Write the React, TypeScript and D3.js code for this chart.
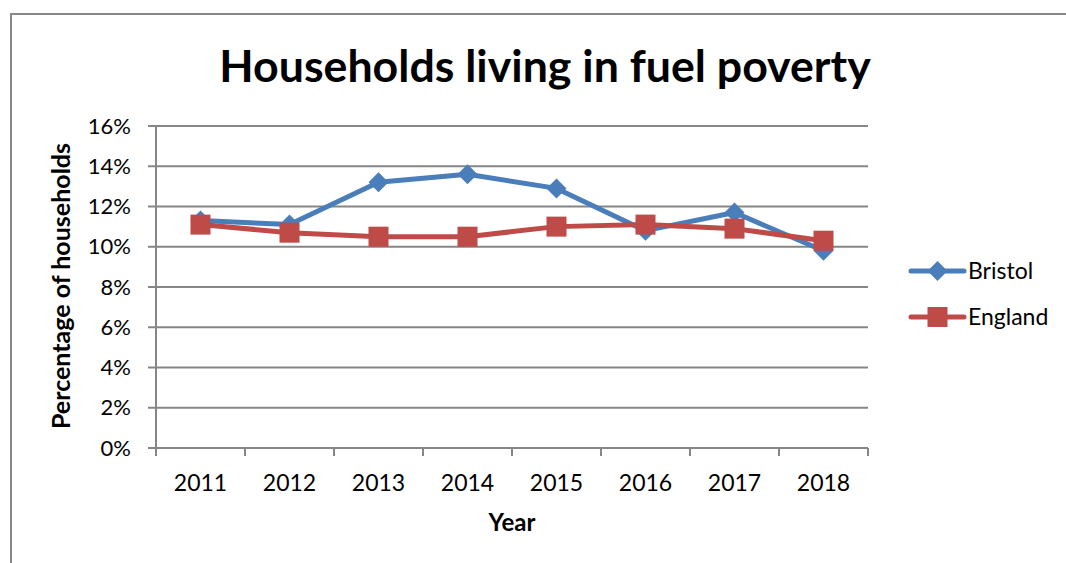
import React from "react";
import * as d3 from "d3";

const years = ["2011", "2012", "2013", "2014", "2015", "2016", "2017", "2018"];
const bristol = [11.3, 11.1, 13.2, 13.6, 12.9, 10.8, 11.7, 9.8];
const england = [11.1, 10.7, 10.5, 10.5, 11.0, 11.1, 10.9, 10.3];
const yTicks = [0, 2, 4, 6, 8, 10, 12, 14, 16];
const seriesNames = ["Bristol", "England"];
const colors = ["#4A7EBB", "#BE4B48"];

const W = 1066, H = 563;
const left = 156, right = 868, top = 126, bottom = 448;
const FONT = "Lato, 'Open Sans', sans-serif";

export default function App() {
  const x = d3.scaleBand<string>().domain(years).range([left, right]);
  const y = d3.scaleLinear().domain([0, 16]).range([bottom, top]);
  const line = d3
    .line<number>()
    .x((_, i) => (x(years[i]) as number) + x.bandwidth() / 2)
    .y((d) => y(d));
  const diamond = (cx: number, cy: number, r: number) =>
    `M${cx},${cy - r}L${cx + r},${cy}L${cx},${cy + r}L${cx - r},${cy}Z`;
  const all = [bristol, england];
  const boundaries = [...years.map((yr) => x(yr) as number), right];

  return (
    <svg width={W} height={H} style={{ position: "absolute", left: 0, top: 0, background: "#fff" }} fontFamily={FONT}>
      <rect x={11} y={14} width={W + 10} height={H + 10} fill="#fff" stroke="#898989" strokeWidth={2} />
      <text x={545} y={82} textAnchor="middle" fontSize={44.7} fontWeight="bold" fill="#000">
        Households living in fuel poverty
      </text>
      {yTicks.map((t) => (
        <g key={t}>
          <line x1={148} x2={right} y1={y(t)} y2={y(t)} stroke="#868686" strokeWidth={2} />
          <text x={131} y={y(t)} dy="0.35em" textAnchor="end" fontSize={22} fill="#000">
            {t}%
          </text>
        </g>
      ))}
      <line x1={left} x2={left} y1={top} y2={bottom + 8} stroke="#868686" strokeWidth={2} />
      {boundaries.map((b, i) => (
        <line key={i} x1={b} x2={b} y1={bottom} y2={bottom + 8} stroke="#868686" strokeWidth={2} />
      ))}
      {years.map((yr) => (
        <text key={yr} x={(x(yr) as number) + x.bandwidth() / 2} y={491} textAnchor="middle" fontSize={23} fill="#000">
          {yr}
        </text>
      ))}
      <text x={512} y={531} textAnchor="middle" fontSize={24} fontWeight="bold" fill="#000">
        Year
      </text>
      <text
        transform={`translate(70,${286}) rotate(-90)`}
        textAnchor="middle"
        fontSize={25}
        fontWeight="bold"
        fill="#000"
      >
        Percentage of households
      </text>
      {all.map((s, k) => (
        <g key={k}>
          <path d={line(s) as string} fill="none" stroke={colors[k]} strokeWidth={5} strokeLinejoin="round" />
          {s.map((v, i) => {
            const cx = (x(years[i]) as number) + x.bandwidth() / 2;
            const cy = y(v);
            return k === 0 ? (
              <path key={i} d={diamond(cx, cy, 10)} fill={colors[k]} />
            ) : (
              <rect key={i} x={cx - 10} y={cy - 10} width={20} height={20} fill={colors[k]} />
            );
          })}
        </g>
      ))}
      {seriesNames.map((n, k) => {
        const ly = k === 0 ? 271 : 317;
        return (
          <g key={n}>
            <line x1={911} x2={964} y1={ly} y2={ly} stroke={colors[k]} strokeWidth={5} strokeLinecap="round" />
            {k === 0 ? (
              <path d={diamond(937.5, ly, 10)} fill={colors[k]} />
            ) : (
              <rect x={927.5} y={ly - 10} width={20} height={20} fill={colors[k]} />
            )}
            <text x={968} y={ly} dy="0.35em" fontSize={23} fill="#000">
              {n}
            </text>
          </g>
        );
      })}
    </svg>
  );
}
